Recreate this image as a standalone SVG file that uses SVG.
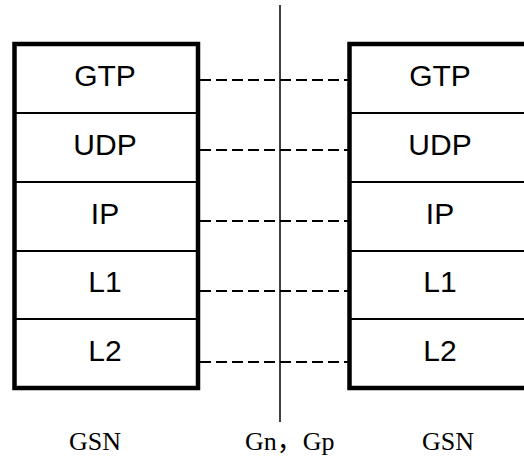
<svg xmlns="http://www.w3.org/2000/svg" width="524" height="459" viewBox="0 0 524 459">
<style>
.box{fill:#fff;stroke:#000;stroke-width:4.5}
.div{stroke:#000;stroke-width:2}
.lbl{font-family:"Liberation Sans",Arial,sans-serif;font-size:30px;text-anchor:middle;fill:#000}
.cap{font-family:"Liberation Serif","Noto Sans CJK SC",serif;font-size:26px;fill:#000}
.dash{stroke:#000;stroke-width:2;stroke-dasharray:11 5;fill:none}
</style>
<rect width="524" height="459" fill="#fff"/>
<g id="connectors">
<line x1="280" y1="5" x2="280" y2="422" stroke="#000" stroke-width="1.5"/>
<line class="dash" x1="200" y1="80" x2="348" y2="80"/>
<line class="dash" x1="200" y1="150" x2="348" y2="150"/>
<line class="dash" x1="200" y1="221" x2="348" y2="221"/>
<line class="dash" x1="200" y1="291" x2="348" y2="291"/>
<line class="dash" x1="200" y1="362" x2="348" y2="362"/>
</g>
<g id="left-stack">
<rect class="box" x="14.5" y="44" width="183.5" height="344"/>
<line class="div" x1="14" y1="113" x2="198" y2="113"/>
<line class="div" x1="14" y1="182" x2="198" y2="182"/>
<line class="div" x1="14" y1="251" x2="198" y2="251"/>
<line class="div" x1="14" y1="319" x2="198" y2="319"/>
<text class="lbl" x="105" y="86">GTP</text>
<text class="lbl" x="105" y="155">UDP</text>
<text class="lbl" x="105" y="224">IP</text>
<text class="lbl" x="105" y="292">L1</text>
<text class="lbl" x="105" y="361">L2</text>
</g>
<g id="right-stack">
<rect class="box" x="349.5" y="44" width="183" height="344"/>
<line class="div" x1="350" y1="113" x2="524" y2="113"/>
<line class="div" x1="350" y1="182" x2="524" y2="182"/>
<line class="div" x1="350" y1="251" x2="524" y2="251"/>
<line class="div" x1="350" y1="319" x2="524" y2="319"/>
<text class="lbl" x="440" y="86">GTP</text>
<text class="lbl" x="440" y="155">UDP</text>
<text class="lbl" x="440" y="224">IP</text>
<text class="lbl" x="440" y="292">L1</text>
<text class="lbl" x="440" y="361">L2</text>
</g>
<g id="captions">
<text class="cap" x="95" y="450" text-anchor="middle">GSN</text>
<text class="cap" x="245" y="450">Gn，Gp</text>
<text class="cap" x="448" y="450" text-anchor="middle">GSN</text>
</g>
</svg>
